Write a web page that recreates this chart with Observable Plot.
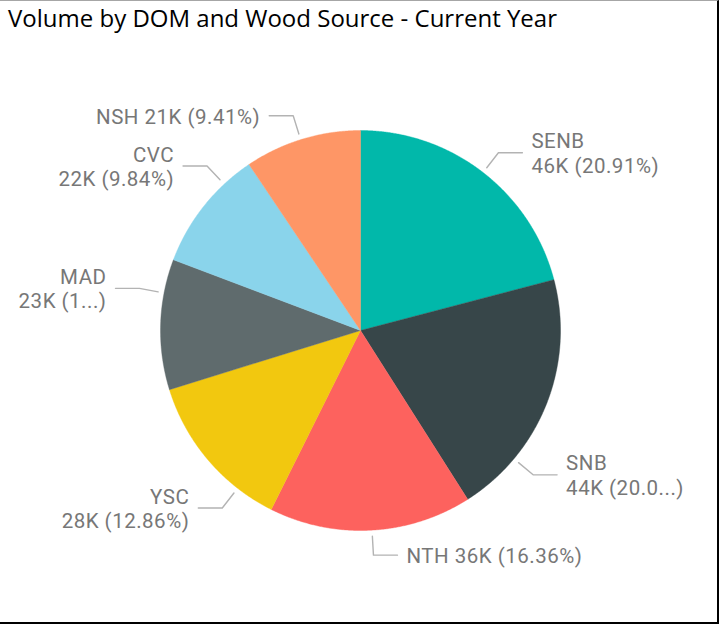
<!DOCTYPE html>
<html>
<head>
<meta charset="utf-8">
<script src="https://cdn.jsdelivr.net/npm/d3@7"></script>
<script src="https://cdn.jsdelivr.net/npm/@observablehq/plot@0.6"></script>
<style>
  html, body { margin: 0; padding: 0; background: #fff; }
  #wrap { position: relative; width: 719px; height: 624px; overflow: hidden; background: #fff; }
  #title { position: absolute; left: 8px; top: 1px; font-family: "Segoe UI", "Open Sans", sans-serif; font-size: 24px; color: #000; white-space: nowrap; }
  #chart { position: absolute; left: 0; top: 0; }
  #chart text { letter-spacing: 0.5px; }
  #border { position: absolute; left: 0; top: 0; width: 719px; height: 624px; box-sizing: border-box;
            border-top: 1px solid #a6a6a6; border-right: 2px solid #000; border-bottom: 2px solid #000; pointer-events: none; }
</style>
</head>
<body>
<div id="wrap">
  <div id="chart"></div>
  <div id="title">Volume by DOM and Wood Source - Current Year</div>
  <div id="border"></div>
</div>
<script>
// ---- data ----
const categories = ["SENB", "SNB", "NTH", "YSC", "MAD", "CVC", "NSH"];
const shares = [20.91, 20.09, 16.36, 12.86, 10.53, 9.84, 9.41];   // percent of total volume
const volumeLabels = ["46K", "44K", "36K", "28K", "23K", "22K", "21K"];
const shareLabels = ["20.91%", "20.0...", "16.36%", "12.86%", "1...", "9.84%", "9.41%"];
const colors = ["#01B8AA", "#374649", "#FD625E", "#F2C80F", "#5F6B6D", "#8AD4EB", "#FE9666"];

// ---- label layout (leader angle in degrees clockwise from 12 o'clock, one/two line label) ----
const leaderAngles = [37.8, 129.9, 176.7, 217.9, 280.8, 317.0, 342.6];
const twoLine = [true, true, false, true, true, true, false];

// ---- geometry ----
const table = categories.map((c, i) => ({category: c, value: shares[i], color: colors[i]}));
const arcs = d3.pie().sort(null).value(d => d.value)(table);

const slicePts = [];
arcs.forEach(a => {
  slicePts.push({k: a.data.category, x: 0, y: 0});
  const n = Math.max(2, Math.ceil((a.endAngle - a.startAngle) / 0.005));
  for (let j = 0; j <= n; j++) {
    const t = a.startAngle + (a.endAngle - a.startAngle) * j / n;
    slicePts.push({k: a.data.category, x: Math.sin(t), y: Math.cos(t)});
  }
  slicePts.push({k: a.data.category, x: 0, y: 0});
});

const r0 = 1.03, r1 = 1.125, hLen = 0.12, gap = 0.045;
const leaders = [];
const labels = [];
categories.forEach((c, i) => {
  const t = leaderAngles[i] * Math.PI / 180;
  const s = Math.sin(t), co = Math.cos(t);
  const right = s > 0;
  const ex = r1 * s, ey = r1 * co;
  const hx = ex + (right ? hLen : -hLen);
  leaders.push({k: c, x: r0 * s, y: r0 * co}, {k: c, x: ex, y: ey}, {k: c, x: hx, y: ey});
  const txt = twoLine[i]
    ? `${c}\n${volumeLabels[i]} (${shareLabels[i]})`
    : `${c} ${volumeLabels[i]} (${shareLabels[i]})`;
  labels.push({x: hx + (right ? gap : -gap), y: ey, text: txt, anchor: right ? "start" : "end"});
});

const marks = [];
arcs.forEach(a => {
  marks.push(Plot.line(slicePts.filter(p => p.k === a.data.category), {
    x: "x", y: "y", fill: a.data.color, stroke: a.data.color, strokeWidth: 0.4, curve: "linear"
  }));
});
marks.push(Plot.line(leaders, {x: "x", y: "y", z: "k", stroke: "#b3b3b3", strokeWidth: 1.4}));
["start", "end"].forEach(anchor => {
  marks.push(Plot.text(labels.filter(d => d.anchor === anchor), {
    x: "x", y: "y", text: "text", textAnchor: anchor, lineAnchor: "middle",
    fill: "#777777", fontSize: 20.5, lineHeight: 1.18,
    fontFamily: "DIN, Roboto, sans-serif"
  }));
});

const chart = Plot.plot({
  width: 719,
  height: 624,
  margin: 0,
  x: {domain: [-1.8, 1.795], axis: null},
  y: {domain: [-1.47, 1.65], axis: null},
  style: {background: "transparent"},
  marks
});
document.getElementById("chart").appendChild(chart);
</script>
</body>
</html>
